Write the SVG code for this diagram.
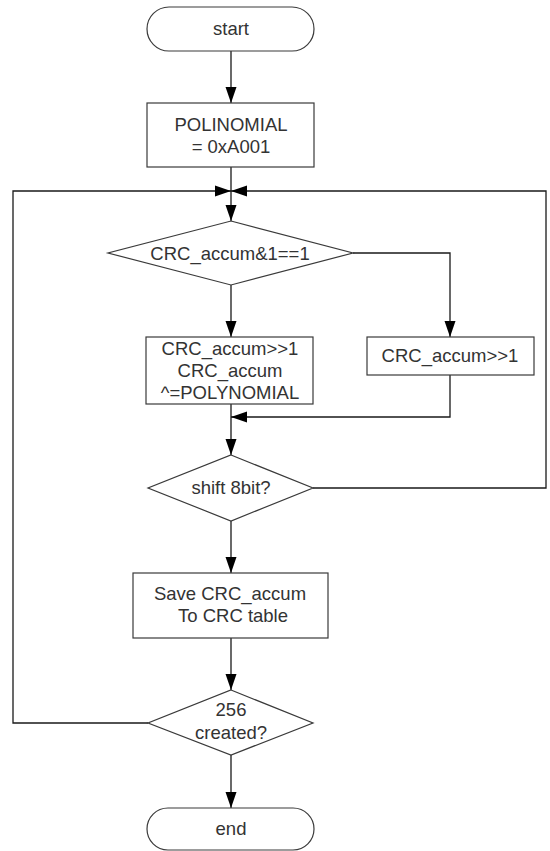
<svg xmlns="http://www.w3.org/2000/svg" width="550" height="851" viewBox="0 0 550 851">
  <style>
    .shape { fill: #ffffff; stroke: #3a3a3a; stroke-width: 1.2; }
    .label { font-family: "Liberation Sans", Arial, sans-serif; font-size: 18.5px; fill: #333333; text-anchor: middle; }
    .wire { fill: none; stroke: #1a1a1a; stroke-width: 1.3; }
    .arrow { marker-end: url(#head); }
  </style>
  <defs>
    <marker id="head" markerUnits="userSpaceOnUse" markerWidth="17" markerHeight="12" refX="16" refY="6" orient="auto">
      <path d="M0,0.5 L16,6 L0,11.5 Z" fill="#000000"/>
    </marker>
  </defs>
  <rect width="550" height="851" fill="#ffffff"/>

  <!-- connectors -->
  <g id="connectors">
    <line class="wire arrow" x1="231" y1="51" x2="231" y2="103"/>
    <line class="wire" x1="231" y1="167" x2="231" y2="191"/>
    <line class="wire arrow" x1="231" y1="191" x2="231" y2="221"/>
    <!-- loop back from "256 created?" -->
    <polyline class="wire arrow" points="148,723 13,723 13,191 231,191"/>
    <!-- loop back from "shift 8bit?" -->
    <polyline class="wire arrow" points="313,488 546,488 546,191 231,191"/>
    <!-- branches of CRC_accum&1==1 -->
    <line class="wire arrow" x1="231" y1="285" x2="231" y2="337"/>
    <polyline class="wire arrow" points="353,253 450,253 450,337"/>
    <polyline class="wire arrow" points="450,375 450,417 231,417"/>
    <line class="wire arrow" x1="231" y1="404" x2="231" y2="455"/>
    <line class="wire arrow" x1="231" y1="521" x2="231" y2="573"/>
    <line class="wire arrow" x1="231" y1="638" x2="231" y2="690"/>
    <line class="wire arrow" x1="231" y1="755" x2="231" y2="808"/>
  </g>

  <g id="start">
    <rect class="shape" x="147" y="7" width="167" height="44" rx="22" ry="22"/>
    <text class="label" x="231" y="35">start</text>
  </g>

  <g id="polynomial">
    <rect class="shape" x="147" y="103" width="167" height="64"/>
    <text class="label" x="231" y="131">POLINOMIAL</text>
    <text class="label" x="231" y="153">= 0xA001</text>
  </g>

  <g id="test-lsb">
    <polygon class="shape" points="231,221 353,253 231,285 108,253"/>
    <text class="label" x="230" y="260">CRC_accum&amp;1==1</text>
  </g>

  <g id="shift-xor">
    <rect class="shape" x="146" y="337" width="167" height="67"/>
    <text class="label" x="230" y="355">CRC_accum&gt;&gt;1</text>
    <text class="label" x="230" y="377">CRC_accum</text>
    <text class="label" x="230" y="399">^=POLYNOMIAL</text>
  </g>

  <g id="shift-only">
    <rect class="shape" x="367" y="337" width="167" height="38"/>
    <text class="label" x="450" y="362">CRC_accum&gt;&gt;1</text>
  </g>

  <g id="shift-count">
    <polygon class="shape" points="231,455 313,488 231,521 148,488"/>
    <text class="label" x="231" y="494">shift 8bit?</text>
  </g>

  <g id="save">
    <rect class="shape" x="133" y="573" width="195" height="65"/>
    <text class="label" x="230" y="600">Save CRC_accum</text>
    <text class="label" x="233" y="622">To CRC table</text>
  </g>

  <g id="table-done">
    <polygon class="shape" points="231,690 313,723 231,755 148,723"/>
    <text class="label" x="231" y="716">256</text>
    <text class="label" x="231" y="739">created?</text>
  </g>

  <g id="end">
    <rect class="shape" x="147" y="808" width="167" height="42" rx="21" ry="21"/>
    <text class="label" x="231" y="835">end</text>
  </g>
</svg>
